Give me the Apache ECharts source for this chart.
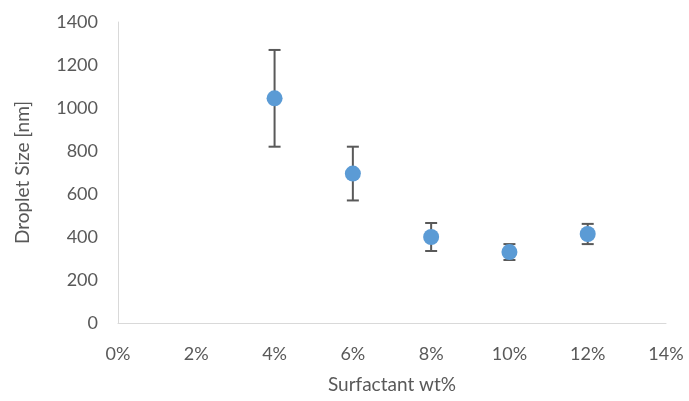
<!DOCTYPE html>
<html><head><meta charset="utf-8">
<script src="https://cdn.jsdelivr.net/npm/echarts@6/dist/echarts.min.js"></script>
<style>html,body{margin:0;padding:0;background:#fff}#c{width:689px;height:401px}</style>
</head><body><div id="c"></div>
<script>
const surfactant = [4, 6, 8, 10, 12];
const dropletSize = [1045, 695, 400, 330, 414];
const errorSize = [225, 125, 65, 37, 47];
const xTicks = [0, 2, 4, 6, 8, 10, 12, 14];
const yTicks = [0, 200, 400, 600, 800, 1000, 1200, 1400];

const font = 'Lato, "Open Sans", sans-serif';
const chart = echarts.init(document.getElementById('c'));
chart.setOption({
  animation: false,
  grid: {left: 118, right: 23, top: 22, bottom: 78},
  xAxis: {
    type: 'value', min: 0, max: 14, interval: 2,
    name: 'Surfactant wt%', nameLocation: 'middle', nameGap: 52,
    nameTextStyle: {color: '#595959', fontSize: 19, fontFamily: font},
    axisLine: {lineStyle: {color: '#d9d9d9', width: 1}},
    axisTick: {show: false}, splitLine: {show: false},
    axisLabel: {color: '#595959', fontSize: 18, fontFamily: font, margin: 22, formatter: v => v + '%'}
  },
  yAxis: {
    type: 'value', min: 0, max: 1400, interval: 200,
    name: 'Droplet Size [nm]', nameLocation: 'middle', nameGap: 86,
    nameTextStyle: {color: '#595959', fontSize: 19, fontFamily: font},
    axisLine: {show: true, lineStyle: {color: '#d9d9d9', width: 1}},
    axisTick: {show: false}, splitLine: {show: false},
    axisLabel: {color: '#595959', fontSize: 18, fontFamily: font, margin: 20, formatter: v => String(v)}
  },
  series: [
    {
      type: 'custom',
      data: surfactant.map((x, i) => [x, dropletSize[i] - errorSize[i], dropletSize[i] + errorSize[i]]),
      renderItem: function (params, api) {
        const lo = api.coord([api.value(0), api.value(1)]);
        const hi = api.coord([api.value(0), api.value(2)]);
        const w = 6;
        const st = {stroke: '#595959', lineWidth: 2};
        return {type: 'group', children: [
          {type: 'line', shape: {x1: hi[0], y1: hi[1], x2: lo[0], y2: lo[1]}, style: st},
          {type: 'line', shape: {x1: hi[0] - w, y1: hi[1], x2: hi[0] + w, y2: hi[1]}, style: st},
          {type: 'line', shape: {x1: lo[0] - w, y1: lo[1], x2: lo[0] + w, y2: lo[1]}, style: st}
        ]};
      },
      z: 1
    },
    {
      type: 'scatter',
      data: surfactant.map((x, i) => [x, dropletSize[i]]),
      symbolSize: 16,
      itemStyle: {color: '#5B9BD5', opacity: 1},
      z: 2
    }
  ]
});
</script></body></html>
